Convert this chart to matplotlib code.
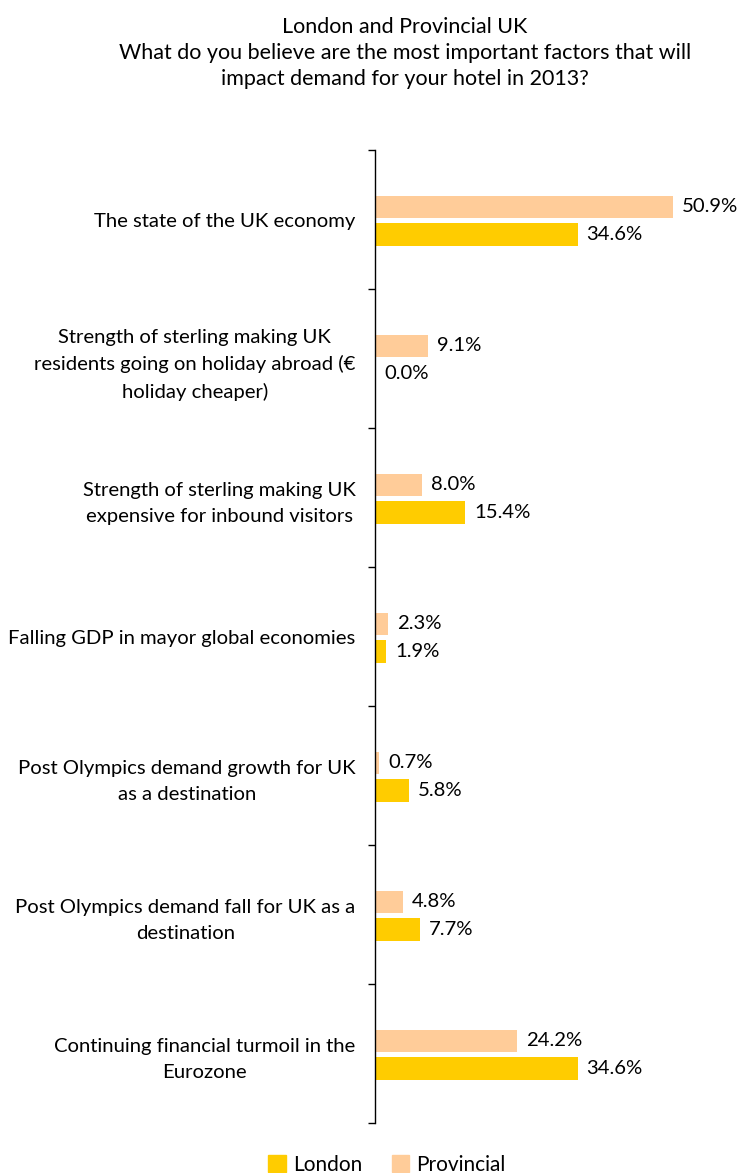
import numpy as np
import matplotlib.pyplot as plt
from matplotlib.ticker import FixedLocator
from matplotlib.patches import Patch

plt.rcParams['font.family'] = ['Lato', 'DejaVu Sans']

categories = [
    "The state of the UK economy",
    "Strength of sterling making UK\nresidents going on holiday abroad (\u20ac\nholiday cheaper)",
    "Strength of sterling making UK\nexpensive for inbound visitors",
    "Falling GDP in mayor global economies",
    "Post Olympics demand growth for UK\nas a destination",
    "Post Olympics demand fall for UK as a\ndestination",
    "Continuing financial turmoil in the\nEurozone",
]
london = [34.6, 0.0, 15.4, 1.9, 5.8, 7.7, 34.6]
provincial = [50.9, 9.1, 8.0, 2.3, 0.7, 4.8, 24.2]

LONDON_COLOR = '#FFCC00'
PROVINCIAL_COLOR = '#FFCC99'


def main():
    fig = plt.figure(figsize=(7.39, 11.73), dpi=100)
    ax = fig.add_axes([375 / 739, 1 - 1123 / 1173, 355 / 739, 973 / 1173])

    y = np.arange(len(categories))
    h = 0.165
    ax.barh(y - 0.09, provincial, height=h, color=PROVINCIAL_COLOR)
    ax.barh(y + 0.105, london, height=h, color=LONDON_COLOR)

    # value labels to the right of each bar
    for yi, p, l in zip(y, provincial, london):
        ax.annotate(f'{p:.1f}%', (p, yi - 0.09), xytext=(6.5, 0),
                    textcoords='offset points', va='center', fontsize=14.6)
        ax.annotate(f'{l:.1f}%', (l, yi + 0.105), xytext=(6.5, 0),
                    textcoords='offset points', va='center', fontsize=14.6)

    ax.set_xlim(0, 355 / 5.855)
    ax.set_ylim(len(categories) - 0.5, -0.5)

    for side in ['top', 'right', 'bottom']:
        ax.spines[side].set_visible(False)
    ax.spines['left'].set_linewidth(1.0)
    ax.set_xticks([])

    ax.set_yticks(y)
    ax.set_yticklabels(categories, fontsize=14.6, linespacing=1.65)
    for lbl in ax.get_yticklabels():
        lbl.set_multialignment('center')
    ax.tick_params(axis='y', which='major', length=0, pad=14)
    ax.yaxis.set_minor_locator(FixedLocator(np.arange(-0.5, len(categories), 1)))
    ax.tick_params(axis='y', which='minor', length=5, width=1.0)

    fig.text(405 / 739, 1 - 53 / 1173,
             'London and Provincial UK\n'
             'What do you believe are the most important factors that will\n'
             'impact demand for your hotel in 2013?',
             ha='center', va='center', fontsize=15.5, linespacing=1.4)

    handles = [Patch(color=LONDON_COLOR, label='London'),
               Patch(color=PROVINCIAL_COLOR, label='Provincial')]
    fig.legend(handles=handles, loc='center', bbox_to_anchor=(387 / 739, 8 / 1173),
               ncol=2, frameon=False, fontsize=15, handlelength=0.85,
               handleheight=0.85, handletextpad=0.35, columnspacing=1.4)

    fig.savefig('out.png', dpi=100)


if __name__ == "__main__":
    main()
